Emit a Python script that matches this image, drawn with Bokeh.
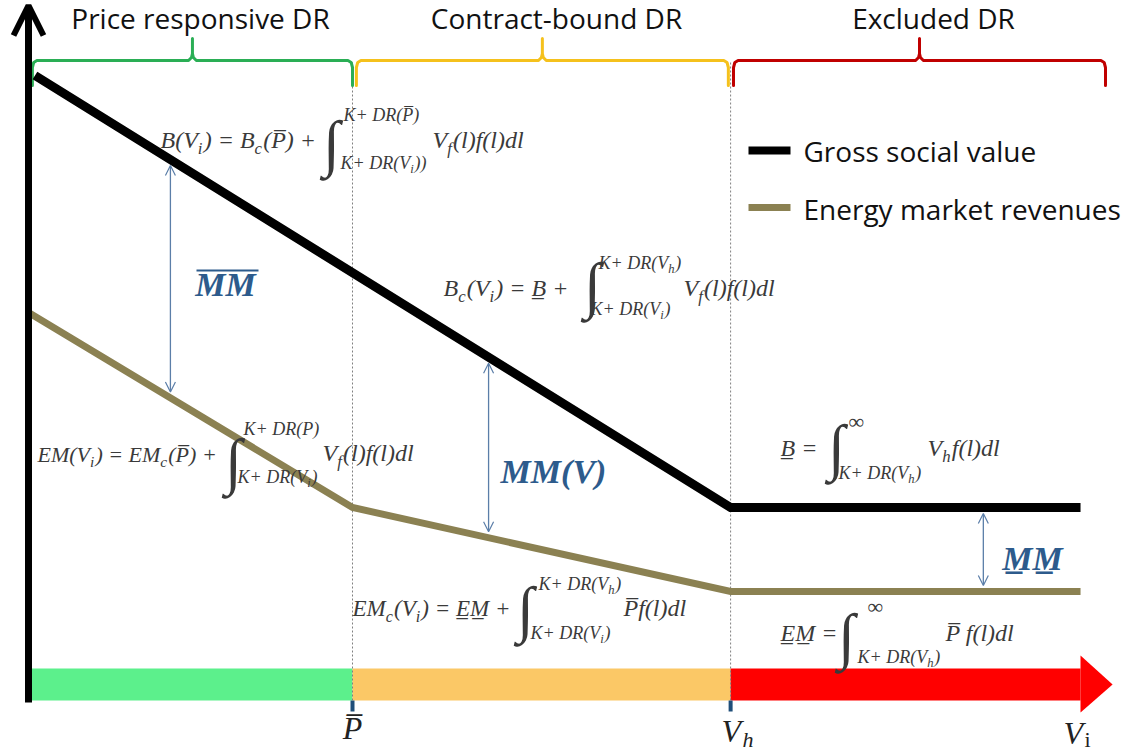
import numpy as np
from bokeh.plotting import figure
from bokeh.models import Range1d, Label, Arrow, OpenHead
from bokeh.embed import file_html
from bokeh.resources import INLINE

# ---------------- data (V axis in units of P-bar, values in arbitrary units) ----------------
region_names = ["Price responsive DR", "Contract-bound DR", "Excluded DR"]
region_edges = [0.0, 1.0, 2.167, 3.247]          # 0, P-bar, V_h, end of drawn V_i range
brace_edges = [0.012, 1.0, 1.012, 2.16, 2.176, 3.324]
axis_tip = 3.346
gross_x = [0.02, 2.167, 3.247]
gross_y = [6.25, 1.93, 1.93]
energy_x = [0.0, 1.0, 2.167, 3.247]
energy_y = [3.88, 1.93, 1.09, 1.09]
mm_x = [0.438, 1.42, 2.947]
mm_labels = ["MM", "MM(V)", "M\u0332M\u0332"]
series_names = ["Gross social value", "Energy market revenues"]
tick_x = [1.0, 2.167]

# ---------------- styles ----------------
FONT_MATH = "Liberation Serif"
FONT_UI = "Open Sans"
MATH_COLOR = "#3a3a3a"
BLUE = "#5b7ea8"
MM_COLOR = "#2d5b8c"
OLIVE = "#8b8152"
BAR_COLORS = ["#5cf08c", "#fbc866", "#ff0000"]
BRACE_COLORS = ["#2aae55", "#f5c11c", "#c00000"]

X0_PX, X_UNIT, Y0_PX, Y_UNIT = 28, 324.0, 700, 100.0


def at(X, Y):
    """layout helper: reference-layout pixel -> data coordinates (annotations only)"""
    return (X - X0_PX) / X_UNIT, (Y0_PX - Y) / Y_UNIT


p = figure(width=1145, height=752, output_backend="svg", toolbar_location=None,
           x_range=Range1d(at(0, 0)[0], at(1145, 0)[0]),
           y_range=Range1d(at(0, 752)[1], at(0, 0)[1]),
           x_axis_location=None, y_axis_location=None, min_border=0)
p.grid.visible = False
p.outline_line_color = None
p.background_fill_color = "white"
p.border_fill_color = "white"

WIDTH = {' ': .25, '(': .333, ')': .333, '+': .675, '=': .675, 'B': .611, 'D': .722,
         'E': .611, 'K': .667, 'M': .833, 'P': .611, 'R': .611, 'V': .611, 'c': .444,
         'd': .5, 'f': .278, 'h': .5, 'i': .278, 'l': .278, '\u221e': .75}
COMB = {'\u0305', '\u0332'}


def tw(s, size):
    return sum(0 if ch in COMB else WIDTH.get(ch, .55) for ch in s) * size


def label(X, Y, text, size, font=FONT_MATH, style="italic", color=MATH_COLOR,
          align="left", baseline="alphabetic", level="annotation"):
    """Y is the text baseline (alphabetic) unless baseline='middle'"""
    if baseline == "alphabetic":
        Y = Y - 0.34 * size
    x, y = at(X, Y)
    p.add_layout(Label(x=x, y=y, text=text, text_font=font, text_font_size=f"{size:.1f}px",
                       text_font_style=style, text_color=color, text_align=align,
                       text_baseline="middle", level=level))


def rich(X, Y, s, size, **kw):
    runs, buf, i = [], '', 0
    while i < len(s):
        if s[i] == '_':
            if buf:
                runs.append((buf, False))
                buf = ''
            runs.append((s[i + 1], True))
            i += 2
        else:
            buf += s[i]
            i += 1
    if buf:
        runs.append((buf, False))
    x = X
    for text, sub in runs:
        sz = size * 0.7 if sub else size
        label(x, Y + (size * 0.22 if sub else 0), text, sz, **kw)
        x += tw(text, sz) + (size * 0.05 if sub else 0)


def integral(Xc, Yc, size=62):
    label(Xc, Yc, "\u222b", size, style="italic", align="center", baseline="middle")


# ---------------- bottom coloured bar + arrow ----------------
bar_top = 0.32
p.quad(left=region_edges[:-1], right=region_edges[1:], bottom=0, top=bar_top,
       fill_color=BAR_COLORS, line_color=None)
p.patch([region_edges[-1], region_edges[-1], axis_tip], [0.45, -0.12, bar_top / 2],
        fill_color=BAR_COLORS[2], line_color=None)
p.segment(x0=tick_x, y0=[0] * 2, x1=tick_x, y1=[-0.11] * 2, line_color="#1f4e79", line_width=4)

# dotted boundaries
p.segment(x0=tick_x, y0=[0] * 2, x1=tick_x, y1=[6.40] * 2, line_color="#808080",
          line_width=1, line_dash="2 2")

# braces
for k in range(3):
    x0, x1 = brace_edges[2 * k], brace_edges[2 * k + 1]
    xm = (x0 + x1) / 2
    d, d2 = 0.014, 0.012
    xs = [x0, x0, x0 + 0.004, x0 + d, xm - d2, xm - 0.003, xm, xm, xm, xm + 0.003, xm + d2,
          x1 - d, x1 - 0.004, x1, x1]
    ys = [6.15, 6.33, 6.38, 6.40, 6.40, 6.43, 6.47, 6.62, 6.47, 6.43, 6.40, 6.40, 6.38, 6.33, 6.15]
    p.line(xs, ys, line_color=BRACE_COLORS[k], line_width=3, line_join="round", line_cap="round")

# vertical axis with open arrow head
p.add_layout(Arrow(end=OpenHead(size=30, line_width=6, line_color="black"),
                   x_start=0, y_start=-0.02, x_end=0, y_end=6.95,
                   line_color="black", line_width=7))

# ---------------- the two series ----------------
p.line(energy_x, energy_y, line_color=OLIVE, line_width=7, line_join="miter")
p.line(gross_x, gross_y, line_color="black", line_width=9, line_join="miter")

# MM arrows
for mx in mm_x:
    g = float(np.interp(mx, gross_x, gross_y))
    e = float(np.interp(mx, energy_x, energy_y))
    p.add_layout(Arrow(start=OpenHead(size=10, line_color=BLUE, line_width=1.2),
                       end=OpenHead(size=10, line_color=BLUE, line_width=1.2),
                       x_start=mx, y_start=g - 0.06, x_end=mx, y_end=e + 0.06,
                       line_color=BLUE, line_width=1.3))

label(225, 296, mm_labels[0], 34, style="bold italic", color=MM_COLOR, align="center")
ox0, oy = at(196, 270)
ox1, _ = at(258, 270)
p.segment(x0=[ox0], y0=[oy], x1=[ox1], y1=[oy], line_color=MM_COLOR, line_width=2)
label(553, 483, mm_labels[1], 34, style="bold italic", color=MM_COLOR, align="center")
label(1032, 570, mm_labels[2], 34, style="bold italic", color=MM_COLOR, align="center")

# ---------------- region titles ----------------
for name, Xc in zip(region_names, [200, 556, 933]):
    label(Xc, 27, name, 28, font=FONT_UI, style="normal", color="#111111", align="center")

# ---------------- legend ----------------
lx0, lx1 = at(748, 0)[0], at(790, 0)[0]
p.segment(x0=[lx0], y0=[at(0, 150)[1]], x1=[lx1], y1=[at(0, 150)[1]], line_color="black", line_width=8)
p.segment(x0=[lx0], y0=[at(0, 207)[1]], x1=[lx1], y1=[at(0, 207)[1]], line_color=OLIVE, line_width=7)
label(803, 160, series_names[0], 28, font=FONT_UI, style="normal", color="#111111")
label(803, 218, series_names[1], 28, font=FONT_UI, style="normal", color="#111111")

# ---------------- formulas ----------------
S, L = 24, 18
# B(V_i)
rich(160, 148, "B(V_i) = B_c(P\u0305) +", S)
integral(331, 142)
rich(343, 121, "K+ DR(P\u0305)", L)
rich(340, 169, "K+ DR(V_i))", L)
rich(432, 148, "V_f(l)f(l)dl", S)
# B_c(V_i)
rich(443, 296, "B_c(V_i) = B\u0332 +", S)
integral(592, 284)
rich(598, 269, "K+ DR(V_h)", L)
rich(590, 315, "K+ DR(V_i)", L)
rich(683, 296, "V_f(l)f(l)dl", S)
# EM(V_i)
rich(37, 461, "EM(V_i) = EM_c(P\u0305) +", 22)
integral(233, 460)
rich(243, 435, "K+ DR(P)", L)
rich(237, 483, "K+ DR(V_i)", L)
rich(322, 461, "V_f(l)f(l)dl", S)
# EM_c(V_i)
rich(352, 616, "EM_c(V_i) = E\u0332M\u0332 +", 23)
integral(525, 608)
rich(538, 590, "K+ DR(V_h)", L, level="underlay")
rich(530, 639, "K+ DR(V_i)", L)
rich(623, 616, "P\u0305f(l)dl", S)
# B underline
rich(780, 456, "B\u0332 =", S)
integral(836, 446)
label(848, 428, "\u221e", 22, style="normal")
rich(838, 479, "K+ DR(V_h)", L)
rich(927, 456, "V_hf(l)dl", S)
# EM underline
rich(780, 641, "E\u0332M\u0332 =", S)
integral(846, 635)
label(867, 613, "\u221e", 22, style="normal")
rich(857, 663, "K+ DR(V_h)", L)
rich(945, 641, "P\u0305 f(l)dl", S)

# ---------------- V axis labels ----------------
label(352, 738, "P\u0305", 32, color="#222222", align="center")
label(721, 741, "V", 32, color="#222222")
label(742, 746, "h", 22, color="#222222")
label(1063, 743, "V", 32, color="#222222")
label(1084, 746, "i", 22, style="normal", color="#222222")

open("out.html", "w").write(file_html(p, INLINE))
